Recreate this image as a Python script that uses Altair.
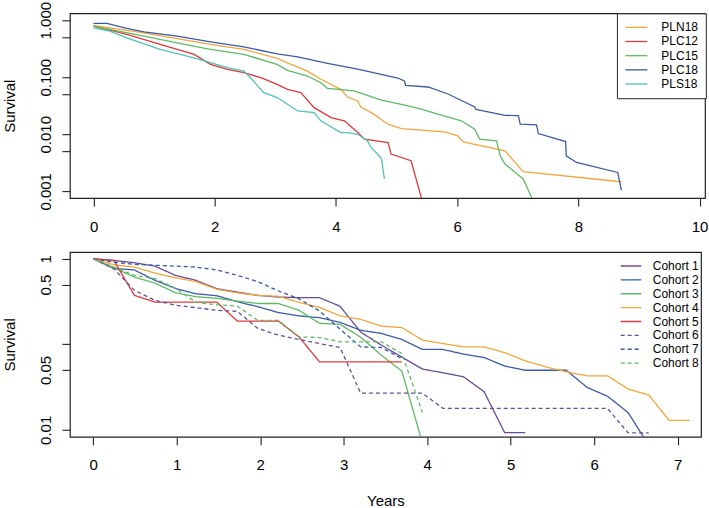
import altair as alt
import pandas as pd

FONT = "Liberation Sans"
INK = "#222222"

# ---------------- upper panel: survival by group ----------------
groups = ["PLN18", "PLC12", "PLC15", "PLC18", "PLS18"]
group_colors = ["#F4A53B", "#E0393C", "#5DBB63", "#3A5BA8", "#4EC3B6"]

pln18_t = [0, 0.83, 1.93, 2.48, 3.03, 3.20, 3.53, 3.75, 4.08, 4.19, 4.36, 4.41, 4.61,
           4.86, 5.08, 5.79, 6.01, 6.10, 6.79, 7.09, 8.71]
pln18_s = [0.808, 0.600, 0.376, 0.307, 0.215, 0.179, 0.128, 0.0919, 0.0614, 0.045, 0.0384,
           0.030, 0.023, 0.0150, 0.0126, 0.0110, 0.00938, 0.00736, 0.00513, 0.00220, 0.00147]

plc12_t = [0, 0.55, 1.10, 1.66, 1.93, 2.21, 2.48, 2.76, 3.03, 3.20, 3.42, 3.64, 3.92,
           4.14, 4.36, 4.47, 4.86, 4.91, 5.24, 5.42]
plc12_s = [0.785, 0.562, 0.376, 0.251, 0.168, 0.137, 0.120, 0.098, 0.075, 0.0614, 0.0536,
           0.0293, 0.0196, 0.0172, 0.0107, 0.00821, 0.00716, 0.00449, 0.00343, 0.0007]

plc15_t = [0, 0.83, 1.38, 1.93, 2.48, 3.03, 3.20, 3.53, 3.75, 3.86, 4.30, 4.75, 5.19,
           5.41, 5.68, 6.07, 6.29, 6.37, 6.65, 6.71, 6.79, 7.09, 7.25]
plc15_s = [0.785, 0.525, 0.401, 0.307, 0.251, 0.168, 0.132, 0.105, 0.0801, 0.0639, 0.0574,
           0.0395, 0.0314, 0.0275, 0.0225, 0.0172, 0.0123, 0.00821, 0.00767, 0.00419,
           0.00300, 0.00164, 0.0007]

plc18_t = [0, 0.22, 0.55, 0.83, 1.38, 1.93, 2.48, 3.03, 3.37, 3.86, 4.36, 5.02, 5.13,
           5.15, 5.52, 5.85, 6.29, 6.31, 6.79, 7.01, 7.04, 7.31, 7.34, 7.79, 7.80, 7.97,
           8.65, 8.71]
plc18_s = [0.876, 0.876, 0.716, 0.624, 0.525, 0.417, 0.341, 0.257, 0.228, 0.175, 0.139,
           0.0968, 0.0858, 0.0722, 0.0674, 0.0508, 0.0301, 0.0272, 0.0214, 0.0212, 0.0150,
           0.0146, 0.0103, 0.00746, 0.00419, 0.00320, 0.00214, 0.00105]

pls18_t = [0, 0.27, 0.55, 1.10, 1.66, 2.21, 2.48, 2.59, 2.81, 3.03, 3.37, 3.64, 3.75,
           4.08, 4.19, 4.36, 4.52, 4.58, 4.75, 4.80]
pls18_s = [0.733, 0.642, 0.490, 0.307, 0.219, 0.147, 0.128, 0.098, 0.0536, 0.044, 0.0256,
           0.0240, 0.0172, 0.0107, 0.0107, 0.0100, 0.00767, 0.00586, 0.0038, 0.00164]

top_x_ticks = [0, 2, 4, 6, 8, 10]
top_y_ticks = [1, 0.5, 0.1, 0.05, 0.01, 0.005, 0.001]
top_y_labels = {1: "1.000", 0.1: "0.100", 0.01: "0.010", 0.001: "0.001"}

# ---------------- lower panel: survival by cohort ----------------
cohorts = ["Cohort 1", "Cohort 2", "Cohort 3", "Cohort 4",
           "Cohort 5", "Cohort 6", "Cohort 7", "Cohort 8"]
cohort_colors = ["#6A4C9C", "#3A5BA8", "#5DBB63", "#F4A53B",
                 "#E0393C", "#6A4C9C", "#3A5BA8", "#5DBB63"]
cohort_dash = [[1, 0], [1, 0], [1, 0], [1, 0], [1, 0], [4, 3], [4, 3], [4, 3]]

# follow-up times in years (90-day visits)
visit_years = [0, 0.246, 0.493, 0.739, 0.986, 1.232, 1.478, 1.725, 1.971, 2.218,
               2.464, 2.710, 2.957, 3.203, 3.450, 3.696, 3.943, 4.189, 4.435, 4.682,
               4.928, 5.175, 5.421, 5.667, 5.914, 6.160, 6.407, 6.653, 6.899, 7.146]

cohort1_s = [1, 0.955, 0.898, 0.82, 0.639, 0.559, 0.447, 0.408, 0.373, 0.357, 0.351,
             0.351, 0.278, 0.139, 0.098, 0.0707, 0.0513, 0.0465, 0.0417, 0.0279,
             0.00927, 0.00927]
cohort2_s = [1, 0.77, 0.74, 0.56, 0.45, 0.39, 0.37, 0.315, 0.275, 0.235, 0.215, 0.205,
             0.18, 0.146, 0.134, 0.114, 0.087, 0.087, 0.0768, 0.070, 0.0557, 0.0497,
             0.0497, 0.0497, 0.0314, 0.0247, 0.0159, 0.0066]
cohort3_s = [1, 0.785, 0.61, 0.52, 0.40, 0.36, 0.345, 0.32, 0.30, 0.30, 0.25, 0.176,
             0.171, 0.121, 0.0746, 0.0486, 0.007]
cohort4_s = [1, 0.85, 0.80, 0.68, 0.60, 0.54, 0.44, 0.40, 0.373, 0.364, 0.31, 0.27,
             0.215, 0.196, 0.163, 0.157, 0.112, 0.102, 0.0933, 0.0933, 0.080, 0.064,
             0.0546, 0.0476, 0.0428, 0.0428, 0.030, 0.0256, 0.0129, 0.0129]
cohort5_s = [1, 0.955, 0.373, 0.312, 0.312, 0.312, 0.312, 0.187, 0.187, 0.187, 0.122,
             0.0624, 0.0624, 0.0624, 0.0624, 0.0624]
cohort6_s = [1, 0.765, 0.427, 0.327, 0.286, 0.268, 0.25, 0.243, 0.153, 0.128, 0.114,
             0.102, 0.0918, 0.0268, 0.0268, 0.0268, 0.0268, 0.0178, 0.0178, 0.0178,
             0.0178, 0.0178, 0.0178, 0.0178, 0.0178, 0.0178, 0.0092, 0.0092]
cohort7_s = [1, 0.91, 0.86, 0.84, 0.82, 0.80, 0.74, 0.64, 0.54, 0.42, 0.34, 0.245,
             0.15, 0.0933, 0.0918, 0.068]
cohort8_s = [1, 0.80, 0.64, 0.585, 0.45, 0.31, 0.29, 0.28, 0.19, 0.19, 0.122, 0.12,
             0.107, 0.107, 0.107, 0.078, 0.016]

bottom_x_ticks = [0, 1, 2, 3, 4, 5, 6, 7]
bottom_y_ticks = [1, 0.5, 0.1, 0.05, 0.01]
bottom_y_labels = {1: "1", 0.5: "0.5", 0.05: "0.05", 0.01: "0.01"}


def long_table(names, xs_list, ys_list, key):
    rows = []
    for name, xs, ys in zip(names, xs_list, ys_list):
        for i, (a, b) in enumerate(zip(xs, ys)):
            rows.append({key: name, "years": a, "survival": b, "step": i})
    return pd.DataFrame(rows)


top_df = long_table(
    groups,
    [pln18_t, plc12_t, plc15_t, plc18_t, pls18_t],
    [pln18_s, plc12_s, plc15_s, plc18_s, pls18_s],
    "group",
)
cohort_series = [cohort1_s, cohort2_s, cohort3_s, cohort4_s,
                 cohort5_s, cohort6_s, cohort7_s, cohort8_s]
bottom_df = long_table(cohorts, [visit_years] * 8, cohort_series, "cohort")


def label_expr(mapping):
    expr = "''"
    for v, s in mapping.items():
        expr = f"datum.value == {v} ? '{s}' : ({expr})"
    return expr


axis_common = dict(
    domain=False, grid=False, ticks=True, tickColor=INK, tickWidth=1.1, tickSize=8,
    labelFont=FONT, labelFontSize=15, labelColor="black", labelOverlap=False,
    titleFont=FONT, titleFontSize=15, titleFontWeight="normal", titleColor="black",
)


def x_axis(values, title=None):
    kw = dict(axis_common)
    kw.update(values=values, format="d", labelPadding=13)
    if title:
        kw.update(title=title, titlePadding=21)
    else:
        kw.update(title=None)
    return alt.Axis(**kw)


def y_axis(values, mapping):
    kw = dict(axis_common)
    kw.update(values=values, labelExpr=label_expr(mapping), labelAngle=270,
              labelAlign="center", labelBaseline="bottom", labelPadding=8,
              title="Survival", titlePadding=21)
    return alt.Axis(**kw)


# legend key: a horizontal stroke starting at the left edge of the entry
KEY_PATH = "M-1,0H3"

legend_common = dict(
    title=None, symbolType=KEY_PATH, symbolStrokeWidth=1.3,
    labelFont=FONT, labelFontSize=12, labelColor="black",
    orient="none", legendY=0,
)

top = alt.Chart(top_df).mark_line(strokeWidth=1.3, clip=True).encode(
    x=alt.X("years:Q", scale=alt.Scale(domain=[-0.39, 10.09], nice=False, zero=False),
            axis=x_axis(top_x_ticks)),
    y=alt.Y("survival:Q",
            scale=alt.Scale(type="log", domain=[0.00076, 1.318], nice=False),
            axis=y_axis(top_y_ticks, top_y_labels)),
    color=alt.Color("group:N", scale=alt.Scale(domain=groups, range=group_colors),
                    legend=alt.Legend(symbolSize=121, labelOffset=24,
                                      padding=7.5, rowPadding=1.2, legendX=547.8,
                                      strokeColor=INK, fillColor="white",
                                      **legend_common)),
    order="step:Q",
).properties(width=636, height=185)

bottom_legend = alt.Legend(symbolSize=106, labelOffset=21,
                           padding=8, rowPadding=1.9, legendX=542.7, **legend_common)

bottom = alt.Chart(bottom_df).mark_line(strokeWidth=1.3, clip=True).encode(
    x=alt.X("years:Q", scale=alt.Scale(domain=[-0.28, 7.28], nice=False, zero=False),
            axis=x_axis(bottom_x_ticks, "Years")),
    y=alt.Y("survival:Q",
            scale=alt.Scale(type="log", domain=[0.0083, 1.2], nice=False),
            axis=y_axis(bottom_y_ticks, bottom_y_labels)),
    color=alt.Color("cohort:N", scale=alt.Scale(domain=cohorts, range=cohort_colors),
                    legend=bottom_legend),
    strokeDash=alt.StrokeDash("cohort:N",
                              scale=alt.Scale(domain=cohorts, range=cohort_dash),
                              legend=bottom_legend),
    order="step:Q",
).properties(width=632, height=185)

chart = alt.vconcat(top, bottom, spacing=16).resolve_scale(
    color="independent", strokeDash="independent"
).resolve_legend(
    color="independent", strokeDash="independent"
).properties(
    padding={"left": 2, "top": 0, "right": 0, "bottom": 0},
    background="white",
).configure_view(stroke=INK, strokeWidth=1.2)

chart.save("out.html", embed_options={"renderer": "svg", "actions": False})
